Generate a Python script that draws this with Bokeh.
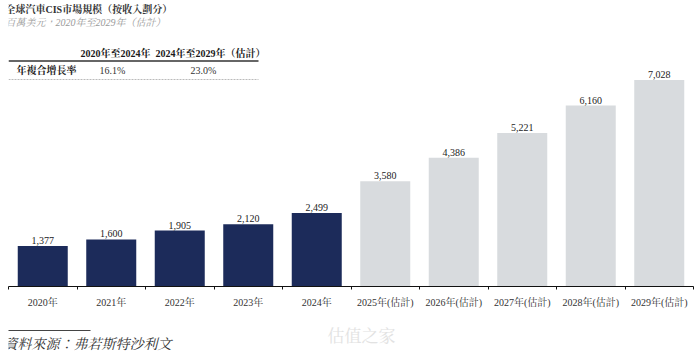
from bokeh.plotting import figure
from bokeh.layouts import column
from bokeh.models import (ColumnDataSource, Range1d, FixedTicker, Label, Arrow)
from bokeh.core.properties import value
from bokeh.embed import file_html
from bokeh.resources import INLINE

# ---------------- data ----------------
years_actual = ["2020年", "2021年", "2022年", "2023年", "2024年"]
values_actual = [1377, 1600, 1905, 2120, 2499]
years_forecast = ["2025年(估計)", "2026年(估計)", "2027年(估計)", "2028年(估計)", "2029年(估計)"]
values_forecast = [3580, 4386, 5221, 6160, 7028]
cagr_periods = ["2020年至2024年", "2024年至2029年（估計）"]
cagr_label = "年複合增長率"
cagr_values = ["16.1%", "23.0%"]
title_text = "全球汽車CIS市場規模（按收入劃分）"
subtitle_text = "百萬美元，2020年至2029年（估計）"
source_text = "資料來源：弗若斯特沙利文"
watermark_text = "估值之家"

# ---------------- styling ----------------
SERIF = "'Liberation Serif', 'Noto Serif CJK TC', 'Noto Sans CJK TC', serif"
NAVY = "#1c2b5a"
GREY = "#d8dbde"
W = 700
H_TOP, H_MAIN, H_FOOT = 40, 270, 42


def lab(fig, x, y, text, size="10px", style="normal", color="#222222", align="left"):
    fig.add_layout(Label(x=x, y=y, text=text, x_units="canvas", y_units="canvas",
                         text_font=SERIF, text_font_size=size, text_font_style=style,
                         text_color=color, text_align=align, text_baseline="middle"))


def hline(fig, x0, x1, y, color, width, dash="solid"):
    fig.add_layout(Arrow(x_start=x0, y_start=y, x_end=x1, y_end=y, end=None,
                         start_units="canvas", end_units="canvas",
                         line_color=color, line_width=width, line_dash=dash))


def blank(h):
    f = figure(width=W, height=h, output_backend="svg", toolbar_location=None,
               x_range=Range1d(0, W), y_range=Range1d(h, 0),
               x_axis_location=None, y_axis_location=None,
               min_border=0, min_border_left=0, min_border_right=0,
               min_border_top=0, min_border_bottom=0)
    f.outline_line_color = None
    f.xgrid.visible = False
    f.ygrid.visible = False
    f.background_fill_color = "white"
    f.border_fill_color = "white"
    return f


# ---------------- header ----------------
top = blank(H_TOP)
lab(top, 5, 9, title_text, size="10px", style="bold", color="#333333")
lab(top, 5, 22, subtitle_text, size="10px", style="italic", color="#9a9a9a")

# ---------------- main chart ----------------
all_years = years_actual + years_forecast
n = len(all_years)

p = figure(width=W, height=H_MAIN, output_backend="svg", toolbar_location=None,
           x_range=Range1d(0, n), y_range=Range1d(0, 8373),
           y_axis_location=None, min_border_left=8, min_border_right=7,
           min_border_top=0, min_border_bottom=23)
p.outline_line_color = None
p.xgrid.visible = False
p.ygrid.visible = False
p.background_fill_color = "white"
p.border_fill_color = "white"

src_a = ColumnDataSource(dict(
    x=[i + 0.5 for i in range(len(years_actual))],
    top=values_actual,
    lbl=[f"{v:,}" for v in values_actual]))
src_f = ColumnDataSource(dict(
    x=[len(years_actual) + i + 0.5 for i in range(len(years_forecast))],
    top=values_forecast,
    lbl=[f"{v:,}" for v in values_forecast]))

p.vbar(x="x", top="top", width=0.73, source=src_a, fill_color=NAVY, line_color=None)
p.vbar(x="x", top="top", width=0.73, source=src_f, fill_color=GREY, line_color=None)

for src in (src_a, src_f):
    p.text(x="x", y="top", text="lbl", source=src, text_align="center",
           text_baseline="bottom", y_offset=-2, text_font=value(SERIF),
           text_font_size="10px", text_color="#222222")

ax = p.xaxis[0]
ax.ticker = FixedTicker(ticks=[i + 0.5 for i in range(n)],
                        minor_ticks=[float(i) for i in range(n + 1)])
ax.major_label_overrides = {i + 0.5: t for i, t in enumerate(all_years)}
ax.axis_line_color = "#111111"
ax.axis_line_width = 1
ax.major_tick_line_color = None
ax.major_tick_out = 0
ax.major_tick_in = 0
ax.minor_tick_line_color = "#111111"
ax.minor_tick_out = 3
ax.minor_tick_in = 0
ax.major_label_standoff = 7
ax.major_label_text_font = SERIF
ax.major_label_text_font_size = "10px"
ax.major_label_text_color = "#333333"

# CAGR table (inside the main frame, canvas coords of this figure)
lab(p, 80, 13, cagr_periods[0], style="bold", color="#1a1a1a")
lab(p, 155, 13, cagr_periods[1], style="bold", color="#1a1a1a")
hline(p, 8, 258, 20.5, "#333333", 1.6)
lab(p, 16, 29.5, cagr_label, style="bold", color="#1a1a1a")
lab(p, 99, 29.5, cagr_values[0], color="#333333")
lab(p, 190, 29.5, cagr_values[1], color="#333333")
hline(p, 8, 258, 39, "#aaaaaa", 0.8, "2 1")

# ---------------- footer ----------------
foot = blank(H_FOOT)
hline(foot, 3, 90, 20, "#444444", 1)
lab(foot, 3, 34, source_text, size="14px", style="italic", color="#333333")
lab(foot, 327, 26, watermark_text, size="17px", color="#e2e2e2")

layout = column(top, p, foot, spacing=0)
open("out.html", "w").write(file_html(layout, INLINE))
